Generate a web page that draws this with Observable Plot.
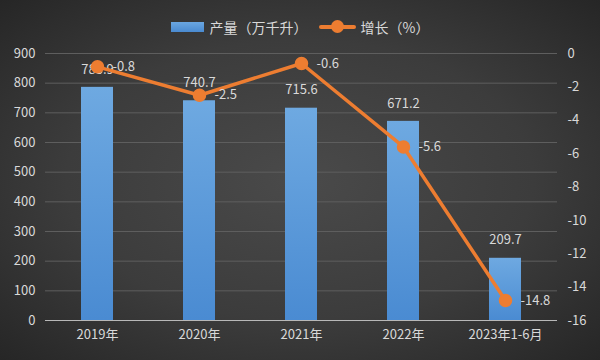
<!DOCTYPE html>
<html><head><meta charset="utf-8">
<script src="https://cdn.jsdelivr.net/npm/d3@7"></script>
<script src="https://cdn.jsdelivr.net/npm/@observablehq/plot@0.6"></script>
<style>
html,body{margin:0;padding:0;background:#2b2b2b;}
#wrap{position:relative;width:600px;height:360px;overflow:hidden;
 background:radial-gradient(ellipse at 50% 50%, #4a4a4a 0%, #3c3c3c 55%, #262626 100%);
 font-family:"Noto Sans CJK SC","Noto Sans",sans-serif;}
#legend{position:absolute;top:17px;left:0;width:600px;display:flex;justify-content:center;align-items:center;
 color:#d9d9d9;font-size:14px;gap:0;}
.sw{display:inline-block;width:33px;height:10px;background:linear-gradient(#6aa6e0,#4a8ad0);margin-right:6px;}
.ln{position:relative;display:inline-block;width:37px;height:4px;background:#ed7d31;margin:0 5px 0 11px;border-radius:2px;}
.ln::after{content:"";position:absolute;left:12px;top:-5px;width:13px;height:13px;border-radius:50%;background:#ed7d31;}
#chart{position:absolute;top:0;left:0;}
</style></head>
<body><div id="wrap">
<div id="legend"><span class="sw"></span><span>产量（万千升）</span><span class="ln"></span><span>增长（%）</span></div>
<div id="chart"></div>
</div>
<script>
const categories = ["2019年","2020年","2021年","2022年","2023年1-6月"];
const output = [785.9, 740.7, 715.6, 671.2, 209.7];
const growth = [-0.8, -2.5, -0.6, -5.6, -14.8];
const leftTicks = [0,100,200,300,400,500,600,700,800,900];
const rightTicks = [0,-2,-4,-6,-8,-10,-12,-14,-16];

const toY = v => 900 + v * 900 / 16;
const rows = categories.map((c,i)=>({c, out: output[i], g: growth[i], gy: toY(growth[i])}));

const defs = () => {
  const d = d3.create("svg:defs");
  const lg = d.append("linearGradient").attr("id","barGrad").attr("x1",0).attr("y1",0).attr("x2",0).attr("y2",1);
  lg.append("stop").attr("offset","0%").attr("stop-color","#6ea9e1");
  lg.append("stop").attr("offset","100%").attr("stop-color","#4a8bd2");
  return d.node();
};

const chart = Plot.plot({
  width: 600, height: 360,
  marginLeft: 45, marginRight: 43, marginTop: 53, marginBottom: 40,
  style: {background: "transparent", color: "#d9d9d9", fontSize: "13px", fontFamily: "'Noto Sans CJK SC','Noto Sans',sans-serif"},
  x: {domain: categories, paddingInner: 0.69, paddingOuter: 0.345, label: null},
  y: {domain: [0, 900], label: null},
  marks: [
    defs,
    Plot.gridY(leftTicks, {stroke: "#5e5e5e", strokeOpacity: 1}),
    Plot.barY(rows, {x: "c", y: "out", fill: "url(#barGrad)"}),
    Plot.ruleY([0], {stroke: "#b8b8b8", strokeWidth: 1.2}),
    Plot.axisY(leftTicks, {anchor: "left", tickSize: 0, tickPadding: 10, label: null, fill: "#d9d9d9"}),
    Plot.axisY(rightTicks.map(toY), {anchor: "right", tickSize: 0, tickPadding: 10, label: null, textAnchor: "start",
      tickFormat: y => String(Math.round((y - 900) * 16 / 900)), fill: "#d9d9d9"}),
    Plot.axisX({tickSize: 0, tickPadding: 9, label: null, fill: "#d9d9d9", fontSize: 13}),
    Plot.text(rows, {x: "c", y: "out", text: d => d.out.toFixed(1), dy: -18, fill: "#d9d9d9", fontSize: 13}),
    Plot.line(rows, {x: "c", y: "gy", stroke: "#ed7d31", strokeWidth: 3.5}),
    Plot.dot(rows, {x: "c", y: "gy", r: 6, fill: "#ed7d31", stroke: "#ed7d31"}),
    Plot.text(rows, {x: "c", y: "gy", text: d => String(d.g), dx: 15, textAnchor: "start", fill: "#d9d9d9", fontSize: 13})
  ]
});
document.getElementById("chart").appendChild(chart);
</script>
</body></html>
